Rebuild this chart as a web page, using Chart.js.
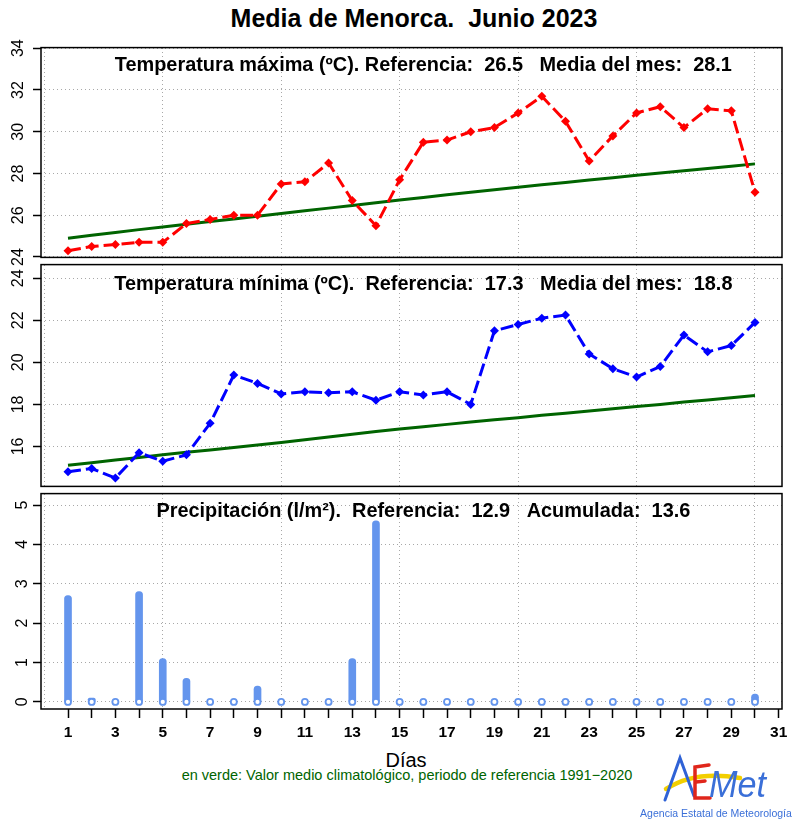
<!DOCTYPE html>
<html>
<head>
<meta charset="utf-8">
<script src="https://cdn.jsdelivr.net/npm/chart.js@4.4.1/dist/chart.umd.min.js"></script>
<style>
  body { margin: 0; background: #fff; }
  #page { position: relative; width: 794px; height: 823px; overflow: hidden; font-family: "Liberation Sans", Arial, sans-serif; }
  canvas { position: absolute; left: 0; }
  .txt { position: absolute; white-space: pre; transform: translate(-50%, -50%); line-height: 1; }
</style>
</head>
<body>
<div id="page">
  <div class="txt" style="left:414px; top:18px; font-weight:bold; font-size:25px;">Media de Menorca.  Junio 2023</div>
  <canvas id="cMax" width="794" height="241" style="top:32px"></canvas>
  <canvas id="cMin" width="794" height="253" style="top:249px"></canvas>
  <canvas id="cPrec" width="794" height="271" style="top:478px"></canvas>
  <div class="txt" style="left:406px; top:760px; font-size:20px;">Días</div>
  <div class="txt" style="left:407px; top:775px; font-size:14.5px; color:#006400;">en verde: Valor medio climatológico, periodo de referencia 1991−2020</div>
  <canvas id="logo" width="154" height="62" style="left:640px; top:748px"></canvas>
  <div class="txt" style="left:716px; top:813px; font-size:10.5px; color:#3a6fd8; font-family:'Liberation Sans Narrow','Liberation Sans',sans-serif;">Agencia Estatal de Meteorología</div>
</div>
<script>
// Días del mes
const days = [1,2,3,4,5,6,7,8,9,10,11,12,13,14,15,16,17,18,19,20,21,22,23,24,25,26,27,28,29,30];

// Temperatura máxima diaria y valor climatológico (ºC)
const tmax = [24.3,24.5,24.6,24.7,24.7,25.6,25.8,26.0,26.0,27.5,27.6,28.5,26.7,25.5,27.7,
              29.5,29.6,30.0,30.2,30.9,31.7,30.5,28.6,29.8,30.9,31.2,30.2,31.1,31.0,27.1];
const tmaxClim = [24.90,25.04,25.17,25.31,25.44,25.57,25.70,25.82,25.95,26.08,26.21,26.34,26.47,26.60,26.73,
                  26.85,26.98,27.10,27.22,27.34,27.46,27.57,27.69,27.80,27.91,28.02,28.13,28.24,28.35,28.46];

// Temperatura mínima diaria y valor climatológico (ºC)
const tmin = [14.8,14.95,14.5,15.7,15.3,15.6,17.1,19.4,19.0,18.5,18.6,18.55,18.6,18.2,18.6,
              18.45,18.6,18.0,21.5,21.8,22.1,22.25,20.4,19.7,19.3,19.8,21.3,20.5,20.8,21.9];
const tminClim = [15.11,15.23,15.36,15.48,15.60,15.72,15.83,15.95,16.07,16.19,16.32,16.45,16.58,16.71,16.83,
                  16.94,17.05,17.16,17.27,17.37,17.48,17.58,17.69,17.79,17.90,18.00,18.11,18.21,18.32,18.42];

// Precipitación diaria (l/m²)
const prec = [2.7,0.1,0,2.8,1.1,0.6,0,0,0.4,0,0,0,1.1,4.6,0,0,0,0,0,0,0,0,0,0,0,0,0,0,0,0.2];

// Ejes
const tmaxTicks = [24,26,28,30,32,34];
const tminTicks = [16,18,20,22,24];
const precTicks = [0,1,2,3,4,5];
const dayTicks = [1,2,3,4,5,6,7,8,9,10,11,12,13,14,15,16,17,18,19,20,21,22,23,24,25,26,27,28,29,30,31];
const dayLabels = [1,3,5,7,9,11,13,15,17,19,21,23,25,27,29,31];
const gridDays = [0,5,10,15,20,25,30];

const titles = {
  max: 'Temperatura máxima (ºC). Referencia:  26.5   Media del mes:  28.1',
  min: 'Temperatura mínima (ºC).  Referencia:  17.3   Media del mes:  18.8',
  prec: 'Precipitación (l/m²).  Referencia:  12.9   Acumulada:  13.6'
};

const FONT = '"Liberation Sans", Arial, sans-serif';
const xMin = -0.14, xMax = 31.14;

const pts = arr => arr.map((v, i) => ({ x: days[i], y: v }));

const panelText = {
  id: 'panelText',
  afterDatasetsDraw(chart, args, opts) {
    const { ctx, chartArea, scales } = chart;
    ctx.save();
    ctx.font = 'bold 19.9px ' + FONT;
    ctx.fillStyle = '#000';
    ctx.textAlign = 'center';
    ctx.textBaseline = 'alphabetic';
    ctx.fillText(opts.text, scales.x.getPixelForValue(16), chartArea.top + opts.offset);
    ctx.restore();
  }
};

const frame = {
  id: 'frame',
  afterDraw(chart) {
    const { ctx, chartArea: a } = chart;
    ctx.save();
    ctx.setLineDash([]);
    ctx.strokeStyle = '#000';
    ctx.lineWidth = 1.5;
    ctx.strokeRect(a.left, a.top, a.right - a.left, a.bottom - a.top);
    ctx.restore();
  }
};

function yScale(min, max, ticks) {
  return {
    type: 'linear', min: min, max: max,
    afterFit: s => { s.width = 41; },
    afterBuildTicks: s => { s.ticks = ticks.map(v => ({ value: v })); },
    ticks: { minRotation: 90, maxRotation: 90, crossAlign: 'center', padding: 6, color: '#000', font: { family: FONT, size: 16 } },
    grid: { color: '#a8a8a8', lineWidth: 1, tickColor: '#000', tickLength: 8, tickWidth: 1.5 },
    border: { display: false, dash: [1, 3] }
  };
}

const xGrid = {
  type: 'linear', axis: 'x', position: 'top', min: xMin, max: xMax, offset: false,
  afterFit: s => { s.height = 0; },
  afterBuildTicks: s => { s.ticks = gridDays.map(v => ({ value: v })); },
  ticks: { display: false },
  grid: { color: '#a8a8a8', lineWidth: 1, drawTicks: false, offset: false },
  border: { display: false, dash: [1, 3] }
};

function tempChart(id, series, clim, color, yMin, yMax, ticks, text, offset) {
  return new Chart(document.getElementById(id), {
    type: 'line',
    data: {
      datasets: [
        { data: pts(series), xAxisID: 'x', yAxisID: 'y', borderColor: color, borderWidth: 3, borderDash: [13, 5],
          pointStyle: 'rectRot', pointRadius: 4.5, pointBackgroundColor: color, pointBorderWidth: 0, tension: 0 },
        { data: pts(clim), xAxisID: 'x', yAxisID: 'y', borderColor: '#006400', borderWidth: 3, pointRadius: 0, tension: 0 }
      ]
    },
    options: {
      responsive: false, animation: false, devicePixelRatio: 1,
      layout: { padding: { top: 12, bottom: 12, left: 0, right: 12 } },
      plugins: { legend: { display: false }, tooltip: { enabled: false }, panelText: { text: text, offset: offset } },
      scales: {
        x: { type: 'linear', display: false, min: xMin, max: xMax, offset: false },
        xg: xGrid,
        y: yScale(yMin, yMax, ticks)
      }
    },
    plugins: [panelText, frame]
  });
}

tempChart('cMax', tmax, tmaxClim, '#ff0000', 23.98, 34.03, tmaxTicks, titles.max, 23);
tempChart('cMin', tmin, tminClim, '#0000ff', 14.1, 24.65, tminTicks, titles.min, 25.5);

new Chart(document.getElementById('cPrec'), {
  type: 'bar',
  data: {
    datasets: [
      { type: 'line', data: pts(days.map(() => 0)), xAxisID: 'x', yAxisID: 'y', showLine: false, order: 0,
        pointStyle: 'circle', pointRadius: 3, pointBorderWidth: 1.8, pointBorderColor: '#6495ed', pointBackgroundColor: '#fff' },
      { type: 'bar', data: pts(prec), xAxisID: 'x', yAxisID: 'y', order: 1, backgroundColor: '#6495ed',
        barThickness: 7, borderWidth: 0, borderRadius: { topLeft: 3.5, topRight: 3.5 }, borderSkipped: 'start' }
    ]
  },
  options: {
    responsive: false, animation: false, devicePixelRatio: 1,
    layout: { padding: { top: 12, bottom: 0, left: 0, right: 12 } },
    plugins: { legend: { display: false }, tooltip: { enabled: false }, panelText: { text: titles.prec, offset: 23.5 } },
    scales: {
      x: {
        type: 'linear', position: 'bottom', min: xMin, max: xMax, offset: false,
        afterFit: s => { s.height = 40; },
        afterBuildTicks: s => { s.ticks = dayTicks.map(v => ({ value: v })); },
        ticks: { autoSkip: false, maxRotation: 0, padding: 5, color: '#000',
                 font: { family: FONT, size: 15.5, weight: 'bold' },
                 callback: v => dayLabels.includes(v) ? String(v) : '' },
        grid: { drawOnChartArea: false, drawTicks: true, tickLength: 9, tickColor: '#000', tickWidth: 1.5, offset: false },
        border: { display: false }
      },
      xg: xGrid,
      y: yScale(-0.18, 5.29, precTicks)
    }
  },
  plugins: [panelText, frame]
});

// Logotipo AEMET (esquema)
const lg = document.getElementById('logo').getContext('2d');
lg.lineCap = 'round';
lg.strokeStyle = '#f2cf00';
lg.lineWidth = 4.5;
lg.beginPath(); lg.moveTo(26, 41); lg.quadraticCurveTo(55, 22, 100, 30); lg.stroke();
lg.strokeStyle = '#2f62d6';
lg.lineWidth = 3;
lg.beginPath(); lg.moveTo(25, 52); lg.lineTo(40, 10); lg.lineTo(54, 48); lg.stroke();
lg.strokeStyle = '#e0261b';
lg.lineWidth = 3.5;
lg.beginPath(); lg.moveTo(69, 17); lg.lineTo(55, 19); lg.lineTo(55, 50); lg.lineTo(70, 50); lg.stroke();
lg.beginPath(); lg.moveTo(56, 34); lg.lineTo(65, 33); lg.stroke();
lg.fillStyle = '#3a6fd8';
lg.font = 'italic 36px ' + FONT;
lg.save();
lg.translate(69, 49);
lg.scale(0.95, 1);
lg.fillText('Met', 0, 0);
lg.restore();
</script>
</body>
</html>
